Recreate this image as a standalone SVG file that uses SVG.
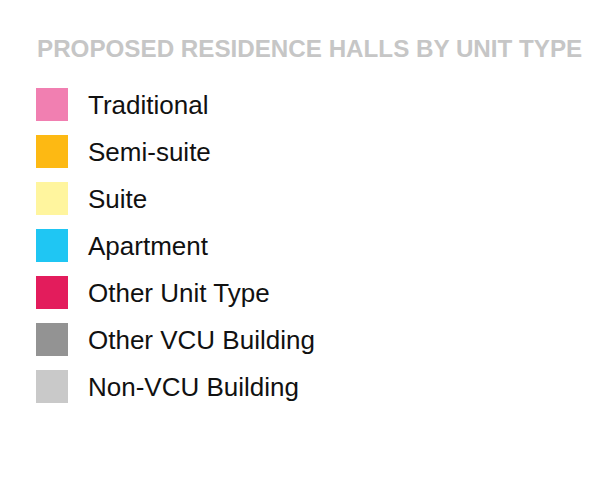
<svg xmlns="http://www.w3.org/2000/svg" width="600" height="500" viewBox="0 0 600 500">
<style>
.t{font-family:"Liberation Sans",Arial,sans-serif;font-size:26px;fill:#111}
.h{font-family:"Liberation Sans",Arial,sans-serif;font-size:24.2px;font-weight:bold;fill:#c6c6c6}
</style>
<rect width="600" height="500" fill="#fff"/>
<text id="title" class="h" x="37" y="57">PROPOSED RESIDENCE HALLS BY UNIT TYPE</text>
<g id="traditional"><rect x="36" y="88" width="32" height="33" fill="#f17fb1"/><text class="t" x="88" y="114">Traditional</text></g>
<g id="semi-suite"><rect x="36" y="135" width="32" height="33" fill="#fdb913"/><text class="t" x="88" y="161">Semi-suite</text></g>
<g id="suite"><rect x="36" y="182" width="32" height="33" fill="#fff59e"/><text class="t" x="88" y="208">Suite</text></g>
<g id="apartment"><rect x="36" y="229" width="32" height="33" fill="#1fc6f3"/><text class="t" x="88" y="255">Apartment</text></g>
<g id="other-unit"><rect x="36" y="276" width="32" height="33" fill="#e31c5c"/><text class="t" x="88" y="302">Other Unit Type</text></g>
<g id="other-vcu"><rect x="36" y="323" width="32" height="33" fill="#939393"/><text class="t" x="88" y="349">Other VCU Building</text></g>
<g id="non-vcu"><rect x="36" y="370" width="32" height="33" fill="#c9c9c9"/><text class="t" x="88" y="396">Non-VCU Building</text></g>
<g id="connectors"/>
</svg>
